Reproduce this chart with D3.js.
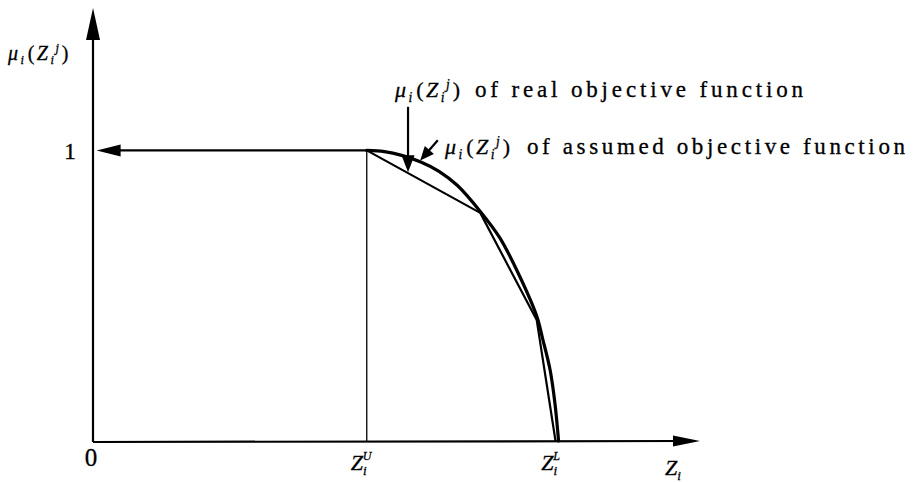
<!DOCTYPE html>
<html>
<head>
<meta charset="utf-8">
<script src="https://cdn.jsdelivr.net/npm/d3@7"></script>
<style>
  html, body { margin: 0; padding: 0; background: #fff; }
  svg { display: block; }
  text { font-family: "Liberation Serif", "DejaVu Serif", "Times New Roman", serif; fill: #000; stroke: #000; stroke-width: 0.3px; }
</style>
</head>
<body>
<svg id="chart" width="921" height="482"></svg>
<script>
// Axis extents in Z (objective value) and membership μ
const zDomain = [0, 100];
const muDomain = [0, 1.49];

// Tick positions on the Z axis and their labels (base, subscript, superscript)
const zTickValues = [0, 45.1, 76.5];
const zTickBase = ["0", "Z", "Z"];
const zTickSub = ["", "i", "i"];
const zTickSup = ["", "U", "L"];

// Membership level 1 mark on the μ axis
const muTickValues = [1];
const muTickLabels = ["1"];

// Real (nonlinear) membership function between Z^U and Z^L
const realZ  = [45.1, 48, 51, 54, 57, 60, 63.8, 67, 70, 73.1, 74.1, 75.3, 76.1, 76.7];
const realMu = [1.0, 0.996, 0.982, 0.96, 0.928, 0.88, 0.79, 0.70, 0.58, 0.43, 0.35, 0.245, 0.13, 0.0];

// Assumed (piecewise-linear) membership function through the break points
const assumedZ  = [45.1, 63.8, 73.1, 76.2];
const assumedMu = [1.0, 0.785, 0.416, 0.0];

// Flat part μ = 1 for Z better than Z^U, drawn as an arrow toward the μ axis
const flatZ = [45.1, 0.6];

// Callout arrows: [tail, tip] in (Z, μ)
const realCallout    = [[51.9, 1.15], [51.9, 0.925]];
const assumedCallout = [[56.8, 1.035], [53.9, 0.965]];

const X = d3.scaleLinear().domain(zDomain).range([93, 700]);
const Y = d3.scaleLinear().domain(muDomain).range([441, 8]);

const svg = d3.select("#chart");

function arrowHead(tip, from, len, half) {
  const dx = tip[0] - from[0], dy = tip[1] - from[1];
  const d = Math.hypot(dx, dy), ux = dx / d, uy = dy / d;
  const bx = tip[0] - ux * len, by = tip[1] - uy * len;
  return `M${tip[0]},${tip[1]}L${bx - uy * half},${by + ux * half}L${bx + uy * half},${by - ux * half}Z`;
}

// μ_i(Z_i^j) written with sub/superscript
function muLabel(t, size) {
  const s = size * 0.62;
  t.append("tspan").style("font-style", "italic").text("μ");
  t.append("tspan").style("font-style", "italic").style("font-size", s + "px").attr("dy", size * 0.22).text("i");
  t.append("tspan").attr("dy", -size * 0.22).attr("dx", size * 0.06).text("(");
  t.append("tspan").style("font-style", "italic").text("Z");
  t.append("tspan").style("font-style", "italic").style("font-size", s + "px").attr("dy", size * 0.22).text("i");
  t.append("tspan").style("font-style", "italic").style("font-size", s + "px").attr("dx", -size * 0.05).attr("dy", -size * 0.6).text("j");
  t.append("tspan").attr("dy", size * 0.38).attr("dx", size * 0.02).text(")");
  return t;
}

// ---- axes ----
const axisG = svg.append("g").attr("stroke", "#000").attr("fill", "none");
const x0 = X(zDomain[0]), y0 = Y(muDomain[0]);
const xEnd = X(zDomain[1]), yEnd = Y(muDomain[1]);

axisG.append("line").attr("x1", x0).attr("y1", y0 + 1).attr("x2", xEnd - 20).attr("y2", y0).attr("stroke-width", 2.2);
axisG.append("line").attr("x1", x0).attr("y1", y0 + 1).attr("x2", x0).attr("y2", yEnd + 25).attr("stroke-width", 2.2);
svg.append("path").attr("d", arrowHead([xEnd, y0], [x0, y0], 27, 5.5)).attr("fill", "#000");
svg.append("path").attr("d", arrowHead([x0, yEnd], [x0, y0], 32, 7)).attr("fill", "#000");

// ---- Z^U drop line and μ = 1 level ----
svg.append("line")
  .attr("x1", X(zTickValues[1])).attr("y1", Y(muTickValues[0]))
  .attr("x2", X(zTickValues[1])).attr("y2", y0)
  .attr("stroke", "#000").attr("stroke-width", 1.3);

const flatTip = [X(flatZ[1]), Y(muTickValues[0])];
const flatStart = [X(flatZ[0]), Y(muTickValues[0])];
svg.append("line")
  .attr("x1", flatStart[0]).attr("y1", flatStart[1])
  .attr("x2", flatTip[0] + 15).attr("y2", flatTip[1])
  .attr("stroke", "#000").attr("stroke-width", 2.4);
svg.append("path").attr("d", arrowHead(flatTip, flatStart, 24, 6)).attr("fill", "#000");

// ---- membership functions ----
const line = d3.line().x(d => X(d[0])).y(d => Y(d[1]));

svg.append("path")
  .datum(assumedZ.map((z, i) => [z, assumedMu[i]]))
  .attr("d", line)
  .attr("fill", "none").attr("stroke", "#000").attr("stroke-width", 2.2)
  .attr("stroke-linejoin", "round").attr("stroke-linecap", "round");

svg.append("path")
  .datum(realZ.map((z, i) => [z, realMu[i]]))
  .attr("d", line.curve(d3.curveCatmullRom.alpha(0.5)))
  .attr("fill", "none").attr("stroke", "#000").attr("stroke-width", 3.2)
  .attr("stroke-linejoin", "round").attr("stroke-linecap", "round");

// ---- callout arrows ----
[[realCallout, 17, 6.5], [assumedCallout, 14, 6]].forEach(([c, len, half]) => {
  const tail = [X(c[0][0]), Y(c[0][1])], tip = [X(c[1][0]), Y(c[1][1])];
  const d = Math.hypot(tip[0] - tail[0], tip[1] - tail[1]);
  const ux = (tip[0] - tail[0]) / d, uy = (tip[1] - tail[1]) / d;
  svg.append("line")
    .attr("x1", tail[0]).attr("y1", tail[1])
    .attr("x2", tip[0] - ux * (len - 2)).attr("y2", tip[1] - uy * (len - 2))
    .attr("stroke", "#000").attr("stroke-width", 2.2);
  svg.append("path").attr("d", arrowHead(tip, tail, len, half)).attr("fill", "#000");
});

// ---- tick labels ----
zTickValues.forEach((v, i) => {
  if (zTickSub[i] === "") {
    svg.append("text").attr("x", X(v) - 2).attr("y", 466).attr("text-anchor", "middle")
      .style("font-size", "25px").text(zTickBase[i]);
  } else {
    const t = svg.append("text").attr("x", X(v) - 16).attr("y", 470).style("font-size", "22px");
    t.append("tspan").style("font-style", "italic").text(zTickBase[i]);
    t.append("tspan").style("font-style", "italic").style("font-size", "13px").attr("dy", 5).text(zTickSub[i]);
    t.append("tspan").style("font-style", "italic").style("font-size", "12px").attr("dx", -4).attr("dy", -15).text(zTickSup[i]);
  }
});

muTickValues.forEach((v, i) => {
  svg.append("text").attr("x", 70).attr("y", Y(v) + 9).attr("text-anchor", "middle")
    .style("font-size", "24px").text(muTickLabels[i]);
});

// ---- axis titles ----
const zTitle = svg.append("text").attr("x", 665).attr("y", 475).style("font-size", "22px");
zTitle.append("tspan").style("font-style", "italic").text("Z");
zTitle.append("tspan").style("font-style", "italic").style("font-size", "13px").attr("dy", 5).text("i");

muLabel(svg.append("text").attr("x", 8).attr("y", 60).style("font-size", "20px").style("letter-spacing", "2.5px"), 20);

// ---- annotations ----
muLabel(svg.append("text").attr("x", 395).attr("y", 97).style("font-size", "22px").style("letter-spacing", "2.5px"), 22);
svg.append("text").attr("x", 475).attr("y", 97).style("font-size", "23px")
  .attr("textLength", 328).attr("lengthAdjust", "spacing").text("of real objective function");

muLabel(svg.append("text").attr("x", 445).attr("y", 154).style("font-size", "22px").style("letter-spacing", "2.5px"), 22);
svg.append("text").attr("x", 527).attr("y", 154).style("font-size", "23px")
  .attr("textLength", 378).attr("lengthAdjust", "spacing").text("of assumed objective function");
</script>
</body>
</html>
